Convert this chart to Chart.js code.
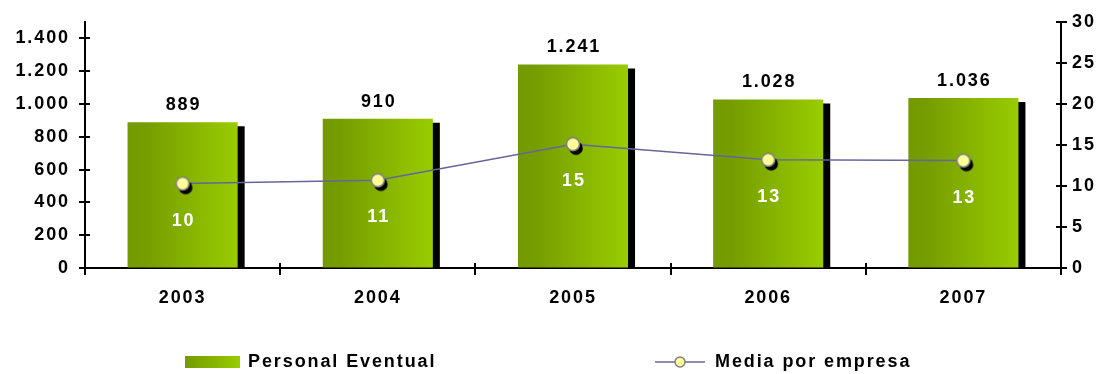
<!DOCTYPE html>
<html><head><meta charset="utf-8">
<script src="https://cdn.jsdelivr.net/npm/chart.js@4.4.1/dist/chart.umd.min.js"></script>
<style>html,body{margin:0;padding:0;background:#fff;overflow:hidden}#wrap{width:1104px;height:374px;position:relative}</style>
</head><body><div id="wrap"><canvas id="c" width="1104" height="374"></canvas></div>
<script>
// ---- data ----
const categories = ['2003', '2004', '2005', '2006', '2007'];
const personalEventual = [889, 910, 1241, 1028, 1036];
const mediaPorEmpresa = [10.3, 10.7, 15.1, 13.2, 13.1];
const leftTicks = [0, 200, 400, 600, 800, 1000, 1200, 1400];
const rightTicks = [0, 5, 10, 15, 20, 25, 30];
const seriesNames = ['Personal Eventual', 'Media por empresa'];

// ---- styles ----
const FAMILY = "'Liberation Sans', Arial, sans-serif";
const FSIZE = 18;
const FONT = 'bold ' + FSIZE + 'px ' + FAMILY;
const LS = 1.9;
const BAR_PCT = 0.564;
const GRAD_L = '#739A00', GRAD_R = '#99CC00';
const LINE_COLOR = '#666699';

function fmt(v) { return String(Math.round(v)).replace(/\B(?=(\d{3})+(?!\d))/g, '.'); }

function makeMarker() {
  const c = document.createElement('canvas'); c.width = 32; c.height = 32;
  const g = c.getContext('2d');
  g.fillStyle = '#000'; g.beginPath(); g.arc(16 + 3, 16 + 4, 6.8, 0, Math.PI * 2); g.fill();
  g.fillStyle = '#FFFF99'; g.strokeStyle = '#808080'; g.lineWidth = 1.5;
  g.beginPath(); g.arc(16, 16, 6.5, 0, Math.PI * 2); g.fill(); g.stroke();
  return c;
}
const marker = makeMarker();

function barGradient(ctx) {
  const chart = ctx.chart, xs = chart.scales && chart.scales.x;
  if (!xs || ctx.dataIndex === undefined) return GRAD_R;
  const cx = xs.getPixelForValue(ctx.dataIndex);
  const w = xs.width / categories.length * BAR_PCT;
  if (!isFinite(cx) || !isFinite(w)) return GRAD_R;
  const g = chart.ctx.createLinearGradient(cx - w / 2, 0, cx + w / 2, 0);
  g.addColorStop(0, GRAD_L); g.addColorStop(0.15, '#759C00'); g.addColorStop(1, GRAD_R);
  return g;
}

function setSpacing(c) { try { c.letterSpacing = LS + 'px'; } catch (e) {} }

const spacing = {
  id: 'spacing',
  beforeUpdate(chart) { setSpacing(chart.ctx); },
  beforeLayout(chart) { setSpacing(chart.ctx); },
  beforeDraw(chart) { setSpacing(chart.ctx); }
};

const barShadow = {
  id: 'barShadow',
  beforeDatasetDraw(chart, args) {
    if (chart.data.datasets[args.index].type === 'bar') {
      const c = chart.ctx; c.save();
      c.shadowColor = '#000'; c.shadowOffsetX = 7; c.shadowOffsetY = 4; c.shadowBlur = 0;
    }
  },
  afterDatasetDraw(chart, args) {
    if (chart.data.datasets[args.index].type === 'bar') chart.ctx.restore();
  }
};

const labelsPlugin = {
  id: 'valueLabels',
  afterDatasetsDraw(chart) {
    const c = chart.ctx; c.save(); setSpacing(c);
    c.font = FONT; c.textAlign = 'center';
    const bm = chart.getDatasetMeta(1);
    c.fillStyle = '#000'; c.textBaseline = 'bottom';
    bm.data.forEach((el, i) => c.fillText(fmt(personalEventual[i]), el.x + LS / 2, el.y - 8));
    const lm = chart.getDatasetMeta(0);
    c.fillStyle = '#fff'; c.textBaseline = 'middle';
    lm.data.forEach((el, i) => c.fillText(String(Math.round(mediaPorEmpresa[i])), el.x + LS / 2, el.y + 37));
    c.restore();
  }
};

const axisTicks = {
  id: 'axisTicks',
  afterDraw(chart) {
    const c = chart.ctx, a = chart.chartArea;
    const yl = chart.scales.y, yr = chart.scales.y1, xs = chart.scales.x;
    c.save(); setSpacing(c); c.strokeStyle = '#000'; c.lineWidth = 2;
    c.beginPath();
    leftTicks.forEach(v => { const y = Math.round(yl.getPixelForValue(v)); c.moveTo(a.left - 6, y); c.lineTo(a.left + 5, y); });
    rightTicks.forEach(v => { const y = Math.round(yr.getPixelForValue(v)); c.moveTo(a.right - 5, y); c.lineTo(a.right + 6, y); });
    for (let k = 0; k <= categories.length; k++) {
      const x = Math.round(xs.getPixelForValue(k - 0.5));
      c.moveTo(x, a.bottom - 5); c.lineTo(x, a.bottom + 7);
    }
    c.stroke();
    // legend
    const ly = 362;
    c.font = FONT; c.textBaseline = 'middle'; c.textAlign = 'left'; c.fillStyle = '#000';
    const g = c.createLinearGradient(185, 0, 240, 0);
    g.addColorStop(0, GRAD_L); g.addColorStop(1, GRAD_R);
    c.fillStyle = g; c.fillRect(185, 356, 55, 12);
    c.fillStyle = '#000'; c.fillText(seriesNames[0], 248, ly);
    c.strokeStyle = LINE_COLOR; c.lineWidth = 1.5;
    c.beginPath(); c.moveTo(655, ly); c.lineTo(705, ly); c.stroke();
    c.fillStyle = '#FFFF99'; c.strokeStyle = '#808080'; c.lineWidth = 1.5;
    c.beginPath(); c.arc(680, ly, 5, 0, Math.PI * 2); c.fill(); c.stroke();
    c.fillStyle = '#000'; c.fillText(seriesNames[1], 715, ly);
    c.restore();
  }
};

Chart.defaults.font.family = FAMILY;
Chart.defaults.font.size = FSIZE;
Chart.defaults.font.weight = 'bold';
Chart.defaults.color = '#000';

new Chart(document.getElementById('c'), {
  data: {
    labels: categories,
    datasets: [
      {
        type: 'line', label: seriesNames[1], data: mediaPorEmpresa, yAxisID: 'y1', order: 0,
        borderColor: LINE_COLOR, borderWidth: 1.5, pointStyle: marker, pointRadius: 6,
        pointHoverRadius: 6, tension: 0, fill: false
      },
      {
        type: 'bar', label: seriesNames[0], data: personalEventual, yAxisID: 'y', order: 1,
        backgroundColor: barGradient, borderWidth: 0,
        barPercentage: BAR_PCT, categoryPercentage: 1
      }
    ]
  },
  options: {
    responsive: false, animation: false,
    layout: { padding: { top: 22, left: 0, right: 0, bottom: 0 } },
    plugins: { legend: { display: false }, tooltip: { enabled: false } },
    scales: {
      x: {
        offset: true,
        grid: { display: true, drawOnChartArea: false, drawTicks: false },
        border: { display: true, color: '#000', width: 2 },
        ticks: { padding: 19 },
        afterFit(s) { s.height = 106; s.paddingLeft = 0; s.paddingRight = 0; }
      },
      y: {
        position: 'left', min: 0, max: 1500,
        grid: { display: true, drawOnChartArea: false, drawTicks: false },
        border: { display: true, color: '#000', width: 2 },
        ticks: { padding: 15, callback: v => fmt(v) },
        afterBuildTicks(s) { s.ticks = leftTicks.map(v => ({ value: v })); },
        afterFit(s) { s.width = 85; s.paddingTop = 0; s.paddingBottom = 0; }
      },
      y1: {
        position: 'right', min: 0, max: 30,
        grid: { display: true, drawOnChartArea: false, drawTicks: false },
        border: { display: true, color: '#000', width: 2 },
        ticks: { padding: 11 },
        afterBuildTicks(s) { s.ticks = rightTicks.map(v => ({ value: v })); },
        afterFit(s) { s.width = 43; s.paddingTop = 0; s.paddingBottom = 0; }
      }
    }
  },
  plugins: [spacing, barShadow, labelsPlugin, axisTicks]
});
</script>
</body></html>
